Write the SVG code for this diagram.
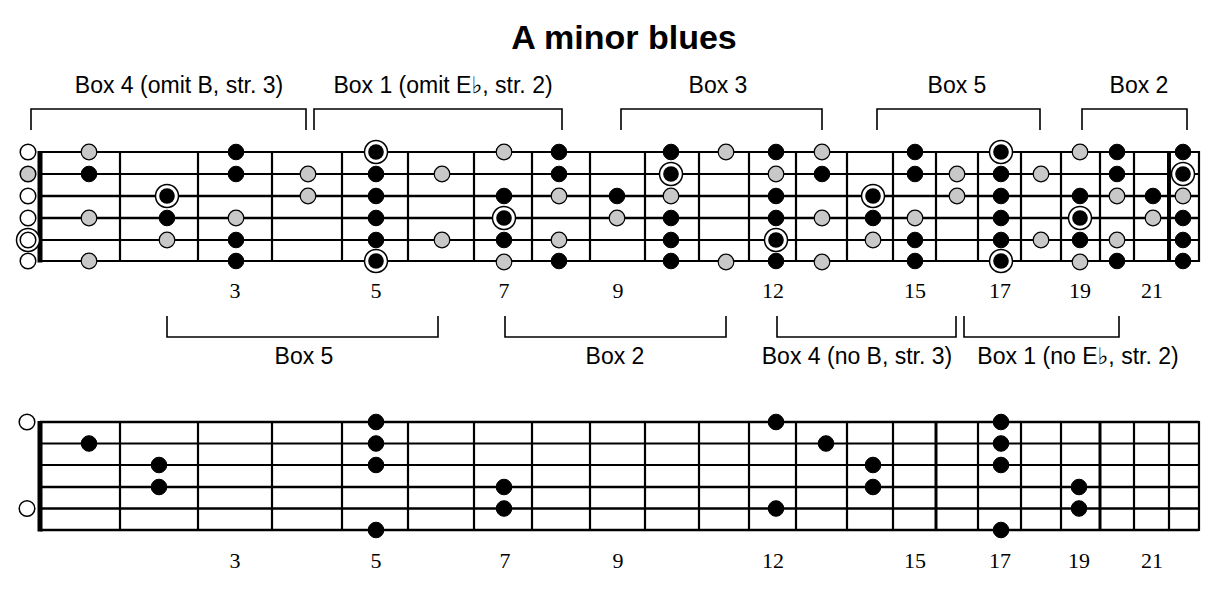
<svg xmlns="http://www.w3.org/2000/svg" xmlns:xlink="http://www.w3.org/1999/xlink" width="1219" height="589" viewBox="0 0 1219 589">
<style>
.title{font-family:"Liberation Sans",Arial,sans-serif;font-weight:bold;font-size:34px;fill:#000;text-anchor:middle}
.lbl{font-family:"Liberation Sans","DejaVu Sans",Arial,sans-serif;font-size:23px;fill:#000;text-anchor:middle}
.num{font-family:"Liberation Serif","Times New Roman",serif;font-size:22px;fill:#000;text-anchor:middle}
.str{stroke:#000;stroke-width:1.8;fill:none}
.strT{stroke:#000;stroke-width:2.6;fill:none}
.fret{stroke:#000;stroke-width:2.2;fill:none}
.nut{fill:#000}
.brk{stroke:#000;stroke-width:1.6;fill:none}
</style>
<defs>
<circle id="b" r="7.8" fill="#000" stroke="#000" stroke-width="1"/>
<circle id="g" r="7.8" fill="#c8c8c8" stroke="#000" stroke-width="1.2"/>
<g id="r"><circle r="11.5" fill="#fff" stroke="#000" stroke-width="1.5"/><circle r="7.8" fill="#000"/></g>
<circle id="o" r="7.8" fill="#fff" stroke="#000" stroke-width="1.5"/>
<circle id="og" r="7.8" fill="#c8c8c8" stroke="#000" stroke-width="1.5"/>
<g id="or"><circle r="11.5" fill="#fff" stroke="#000" stroke-width="1.5"/><circle r="7.8" fill="#fff" stroke="#000" stroke-width="1.5"/></g>
</defs>
<rect width="1219" height="589" fill="#fff"/>
<text class="title" x="624" y="49">A minor blues</text>

<g id="top-brackets">
<path class="brk" d="M31,130 V109 H306 V130"/>
<path class="brk" d="M314,130 V109 H562 V130"/>
<path class="brk" d="M621,130 V109 H822 V130"/>
<path class="brk" d="M877,130 V109 H1040 V130"/>
<path class="brk" d="M1082,130 V109 H1187 V130"/>
<text class="lbl" x="179" y="93">Box 4 (omit B, str. 3)</text>
<text class="lbl" x="443" y="93">Box 1 (omit E♭, str. 2)</text>
<text class="lbl" x="718" y="93">Box 3</text>
<text class="lbl" x="957" y="93">Box 5</text>
<text class="lbl" x="1139" y="93">Box 2</text>
</g>

<g id="fretboard-top">
<g id="top-strings">
<line class="str" x1="40" y1="152" x2="1199" y2="152"/>
<line class="str" x1="40" y1="174" x2="1199" y2="174"/>
<line class="strT" x1="40" y1="196" x2="1199" y2="196"/>
<line class="strT" x1="40" y1="218" x2="1199" y2="218"/>
<line class="str" x1="40" y1="240" x2="1199" y2="240"/>
<line class="str" x1="40" y1="261" x2="1199" y2="261"/>
</g>
<g id="top-frets">
<rect class="nut" x="37.5" y="151" width="5" height="111.5"/>
<path class="fret" d="M120,151V262M198,151V262M272,151V262M342,151V262M408,151V262M474,151V262M532,151V262M590,151V262M645,151V262M699,151V262M749,151V262M796,151V262M847,151V262M893,151V262M936,151V262M978,151V262M1021,151V262M1061,151V262M1100,151V262M1134,151V262M1199,151V262"/>
<line x1="1169" y1="151" x2="1169" y2="262" stroke="#000" stroke-width="4"/>
</g>
<g id="top-open">
<use href="#o" x="28" y="152"/><use href="#og" x="28" y="174"/><use href="#o" x="28" y="196"/><use href="#o" x="28" y="218"/><use href="#or" x="28" y="240"/><use href="#o" x="28" y="261"/>
</g>
<g id="top-dots">
<use href="#g" x="89" y="152"/><use href="#b" x="89" y="174"/><use href="#g" x="89" y="218"/><use href="#g" x="89" y="261"/>
<use href="#r" x="167" y="196"/><use href="#b" x="167" y="218"/><use href="#g" x="167" y="240"/>
<use href="#b" x="236" y="152"/><use href="#b" x="236" y="174"/><use href="#g" x="236" y="218"/><use href="#b" x="236" y="240"/><use href="#b" x="236" y="261"/>
<use href="#g" x="308" y="174"/><use href="#g" x="308" y="196"/>
<use href="#r" x="376" y="152"/><use href="#b" x="376" y="174"/><use href="#b" x="376" y="196"/><use href="#b" x="376" y="218"/><use href="#b" x="376" y="240"/><use href="#r" x="376" y="261"/>
<use href="#g" x="442" y="174"/><use href="#g" x="442" y="240"/>
<use href="#g" x="504" y="152"/><use href="#b" x="504" y="196"/><use href="#r" x="504" y="218"/><use href="#b" x="504" y="240"/><use href="#g" x="504" y="262"/>
<use href="#b" x="559" y="152"/><use href="#b" x="559" y="174"/><use href="#g" x="559" y="196"/><use href="#g" x="559" y="240"/><use href="#b" x="559" y="261"/>
<use href="#b" x="617" y="196"/><use href="#g" x="617" y="218"/>
<use href="#b" x="671" y="152"/><use href="#r" x="671" y="174"/><use href="#g" x="671" y="196"/><use href="#b" x="671" y="218"/><use href="#b" x="671" y="240"/><use href="#b" x="671" y="261"/>
<use href="#g" x="726" y="152"/><use href="#g" x="726" y="262"/>
<use href="#b" x="776" y="152"/><use href="#g" x="776" y="174"/><use href="#b" x="776" y="196"/><use href="#b" x="776" y="218"/><use href="#r" x="776" y="240"/><use href="#b" x="776" y="261"/>
<use href="#g" x="822" y="152"/><use href="#b" x="822" y="174"/><use href="#g" x="822" y="218"/><use href="#g" x="822" y="262"/>
<use href="#r" x="873" y="196"/><use href="#b" x="873" y="218"/><use href="#g" x="873" y="240"/>
<use href="#b" x="915" y="152"/><use href="#b" x="915" y="174"/><use href="#g" x="915" y="218"/><use href="#b" x="915" y="240"/><use href="#b" x="915" y="261"/>
<use href="#g" x="957" y="174"/><use href="#g" x="957" y="196"/>
<use href="#r" x="1001" y="152"/><use href="#b" x="1001" y="174"/><use href="#b" x="1001" y="196"/><use href="#b" x="1001" y="218"/><use href="#b" x="1001" y="240"/><use href="#r" x="1001" y="261"/>
<use href="#g" x="1041" y="174"/><use href="#g" x="1041" y="240"/>
<use href="#g" x="1080" y="152"/><use href="#b" x="1080" y="196"/><use href="#r" x="1080" y="218"/><use href="#b" x="1080" y="240"/><use href="#g" x="1080" y="262"/>
<use href="#b" x="1117" y="152"/><use href="#b" x="1117" y="174"/><use href="#g" x="1117" y="196"/><use href="#g" x="1117" y="240"/><use href="#b" x="1117" y="261"/>
<use href="#b" x="1153" y="196"/><use href="#g" x="1153" y="218"/>
<use href="#b" x="1183" y="152"/><use href="#r" x="1183" y="174"/><use href="#g" x="1183" y="196"/><use href="#b" x="1183" y="218"/><use href="#b" x="1183" y="240"/><use href="#b" x="1183" y="261"/>
</g>
<g id="top-numbers">
<text class="num" x="235" y="298">3</text><text class="num" x="376" y="298">5</text><text class="num" x="504" y="298">7</text><text class="num" x="618" y="298">9</text><text class="num" x="773" y="298">12</text><text class="num" x="915" y="298">15</text><text class="num" x="1000" y="298">17</text><text class="num" x="1080" y="298">19</text><text class="num" x="1152" y="298">21</text>
</g>
</g>

<g id="bottom-brackets">
<path class="brk" d="M167,316 V337 H438 V316"/>
<path class="brk" d="M505,316 V337 H726 V316"/>
<path class="brk" d="M777,316 V337 H956 V316"/>
<path class="brk" d="M964,316 V337 H1119 V316"/>
<text class="lbl" x="304" y="364">Box 5</text>
<text class="lbl" x="615" y="364">Box 2</text>
<text class="lbl" x="857" y="364">Box 4 (no B, str. 3)</text>
<text class="lbl" x="1078" y="364">Box 1 (no E♭, str. 2)</text>
</g>

<g id="fretboard-bottom">
<g id="bottom-strings">
<line class="strT" x1="40" y1="422" x2="1199" y2="422"/>
<line class="str" x1="40" y1="443.5" x2="1199" y2="443.5"/>
<line class="str" x1="40" y1="465" x2="1199" y2="465"/>
<line class="strT" x1="40" y1="487" x2="1199" y2="487"/>
<line class="strT" x1="40" y1="508.5" x2="1199" y2="508.5"/>
<line class="strT" x1="40" y1="530" x2="1199" y2="530"/>
</g>
<g id="bottom-frets">
<rect class="nut" x="37.5" y="421" width="5" height="110.5"/>
<path class="fret" d="M120,421V531M198,421V531M272,421V531M342,421V531M408,421V531M474,421V531M532,421V531M590,421V531M645,421V531M699,421V531M749,421V531M796,421V531M847,421V531M893,421V531M978,421V531M1021,421V531M1061,421V531M1134,421V531M1169,421V531M1199,421V531"/>
<path d="M936,421V531M1100,421V531" stroke="#000" stroke-width="3" fill="none"/>
</g>
<g id="bottom-open">
<use href="#o" x="27" y="422"/><use href="#o" x="27" y="508.5"/>
</g>
<g id="bottom-dots">
<use href="#b" x="89" y="443.5"/>
<use href="#b" x="159" y="465"/><use href="#b" x="159" y="487"/>
<use href="#b" x="376" y="422"/><use href="#b" x="376" y="443.5"/><use href="#b" x="376" y="465"/><use href="#b" x="376" y="530"/>
<use href="#b" x="504" y="487"/><use href="#b" x="504" y="508.5"/>
<use href="#b" x="776" y="422"/><use href="#b" x="776" y="508.5"/>
<use href="#b" x="826" y="443.5"/>
<use href="#b" x="873" y="465"/><use href="#b" x="873" y="487"/>
<use href="#b" x="1001" y="422"/><use href="#b" x="1001" y="443.5"/><use href="#b" x="1001" y="465"/><use href="#b" x="1001" y="530"/>
<use href="#b" x="1079" y="487"/><use href="#b" x="1079" y="508.5"/>
</g>
<g id="bottom-numbers">
<text class="num" x="235" y="568">3</text><text class="num" x="376" y="568">5</text><text class="num" x="505" y="568">7</text><text class="num" x="618" y="568">9</text><text class="num" x="773" y="568">12</text><text class="num" x="915" y="568">15</text><text class="num" x="1000" y="568">17</text><text class="num" x="1079" y="568">19</text><text class="num" x="1152" y="568">21</text>
</g>
</g>
</svg>
